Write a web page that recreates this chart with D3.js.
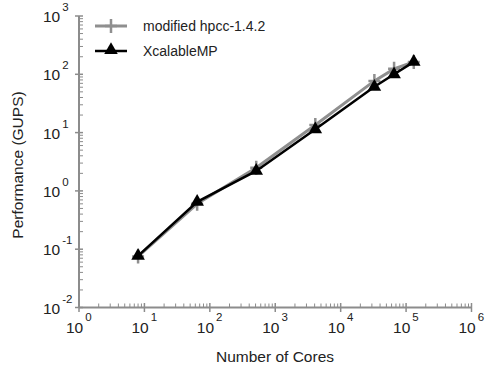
<!DOCTYPE html>
<html><head><meta charset="utf-8">
<script src="https://cdn.jsdelivr.net/npm/d3@7"></script>
<style>
body{margin:0;background:#fff;}
text{font-family:"Liberation Sans",Arial,sans-serif;fill:#222;}
</style></head>
<body><svg id="c" width="492" height="371"></svg>
<script>
const cores = [8, 64, 512, 4096, 32768, 65536, 131072];
const hpcc = [0.075, 0.6, 2.5, 13.5, 77, 124, 163];
const xmp = [0.077, 0.65, 2.2, 11.4, 61, 100, 163];
const seriesNames = ["modified hpcc-1.4.2", "XcalableMP"];
const xExp = [0,1,2,3,4,5,6];
const yExp = [-2,-1,0,1,2,3];

const svg = d3.select("#c");
const x = d3.scaleLog().domain([1,1e6]).range([79,471.5]);
const y = d3.scaleLog().domain([0.01,1000]).range([307.5,16]);
const axisCol = "#8c8c8c";

const xMinor=[], yMinor=[];
for(let e=0;e<6;e++) for(let k=2;k<10;k++) xMinor.push(k*Math.pow(10,e));
for(let e=-2;e<3;e++) for(let k=2;k<10;k++) yMinor.push(k*Math.pow(10,e));

const ax = svg.append("g");
ax.selectAll("line.xm").data(xMinor).join("line")
  .attr("x1",d=>x(d)).attr("x2",d=>x(d)).attr("y1",307.5).attr("y2",303.5)
  .attr("stroke",axisCol).attr("stroke-width",1);
ax.selectAll("line.ym").data(yMinor).join("line")
  .attr("y1",d=>y(d)).attr("y2",d=>y(d)).attr("x1",79).attr("x2",83)
  .attr("stroke",axisCol).attr("stroke-width",1);
ax.selectAll("line.xM").data(xExp).join("line")
  .attr("x1",d=>x(Math.pow(10,d))).attr("x2",d=>x(Math.pow(10,d))).attr("y1",303).attr("y2",312)
  .attr("stroke",axisCol).attr("stroke-width",1.5);
ax.selectAll("line.yM").data(yExp).join("line")
  .attr("y1",d=>y(Math.pow(10,d))).attr("y2",d=>y(Math.pow(10,d))).attr("x1",75).attr("x2",83)
  .attr("stroke",axisCol).attr("stroke-width",1.5);
ax.append("line").attr("x1",79).attr("x2",79).attr("y1",y(1000)).attr("y2",307.5).attr("stroke",axisCol).attr("stroke-width",2);
ax.append("line").attr("x1",79).attr("x2",x(1e6)).attr("y1",307.5).attr("y2",307.5).attr("stroke",axisCol).attr("stroke-width",2);

const xl = svg.append("g").selectAll("text").data(xExp).join("text")
  .attr("x",d=>x(Math.pow(10,d))-13).attr("y",333).attr("font-size",15.5);
xl.append("tspan").text("10");
xl.append("tspan").attr("dx",2).attr("dy",-12).attr("font-size",11.5).text(d=>d);

const yl = svg.append("g").selectAll("text").data(yExp).join("text")
  .attr("x",43).attr("y",d=>y(Math.pow(10,d))+6).attr("font-size",15.5);
yl.append("tspan").text("10");
yl.append("tspan").attr("dx",2).attr("dy",-11).attr("font-size",11.5).text(d=>d);

svg.append("text").attr("x",275).attr("y",362).attr("text-anchor","middle").attr("font-size",15.5).text("Number of Cores");
svg.append("text").attr("transform","translate(23,165) rotate(-90)").attr("text-anchor","middle").attr("font-size",15.5).text("Performance (GUPS)");

const line = d3.line().x(d=>x(d[0])).y(d=>y(d[1]));
const dH = cores.map((c,i)=>[c,hpcc[i]]);
const dX = cores.map((c,i)=>[c,xmp[i]]);
const gray="#8f8f8f";

function plus(g, cx, cy, col){
  g.append("path").attr("d",`M${cx-6},${cy}H${cx+6}M${cx},${cy-7}V${cy+7}`).attr("stroke",col).attr("stroke-width",2.5);
}
function tri(g,cx,cy,col){
  g.append("path").attr("d",d3.symbol().type(d3.symbolTriangle).size(80)()).attr("transform",`translate(${cx},${cy})`).attr("fill",col);
}

svg.append("path").datum(dH).attr("d",line).attr("fill","none").attr("stroke",gray).attr("stroke-width",3);
const gH = svg.append("g");
dH.forEach(d=>plus(gH,x(d[0]),y(d[1]),gray));
svg.append("path").datum(dX).attr("d",line).attr("fill","none").attr("stroke","#000").attr("stroke-width",2.5);
const gX = svg.append("g");
dX.forEach(d=>tri(gX,x(d[0]),y(d[1]),"#000"));

const lg = svg.append("g");
lg.append("line").attr("x1",95).attr("x2",127).attr("y1",26).attr("y2",26).attr("stroke",gray).attr("stroke-width",3);
plus(lg,111,26,gray);
lg.append("text").attr("x",143).attr("y",31).attr("font-size",14).text(seriesNames[0]);
lg.append("line").attr("x1",95).attr("x2",127).attr("y1",51).attr("y2",51).attr("stroke","#000").attr("stroke-width",2.5);
tri(lg,111,50,"#000");
lg.append("text").attr("x",143).attr("y",56).attr("font-size",14).text(seriesNames[1]);
</script></body></html>
